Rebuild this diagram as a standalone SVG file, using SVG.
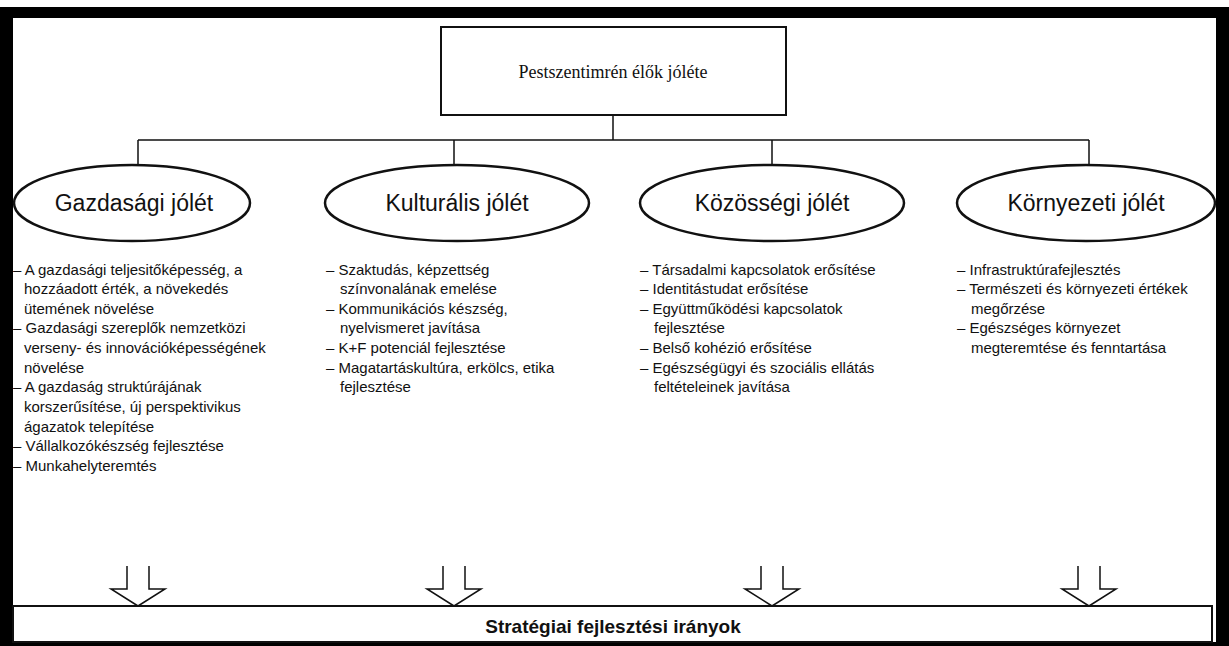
<svg xmlns="http://www.w3.org/2000/svg" width="1229" height="646" viewBox="0 0 1229 646">
<defs>
<style>
.frame{fill:#000;fill-rule:evenodd}
.box{fill:#fff;stroke:#111;stroke-width:2}
.ell{fill:#fff;stroke:#111;stroke-width:2.5}
.conn{fill:none;stroke:#111;stroke-width:1.5}
.arr{fill:none;stroke:#111;stroke-width:1.5;stroke-linejoin:miter}
.top{font-family:"Liberation Serif","Times New Roman",serif;font-size:18px;fill:#111;text-anchor:middle}
.lbl{font-family:"Liberation Sans",Arial,sans-serif;font-size:23px;fill:#111;text-anchor:middle}
.lst{font-family:"Liberation Sans",Arial,sans-serif;font-size:15px;fill:#111}
.bot{font-family:"Liberation Sans",Arial,sans-serif;font-size:19px;font-weight:bold;fill:#111;text-anchor:middle}
</style>
</defs>
<rect x="0" y="0" width="1229" height="646" fill="#fff"/>
<path class="frame" d="M0 7H1229V646H0Z M13 18V642H1216V18Z"/>

<g id="connectors">
<path class="conn" d="M613 115V140 M138 140H1089 M138 140V165 M454 140V165 M772 140V165 M1089 140V165"/>
<path class="arr" d="M127 566V589H111L138 606L165 589H149V566"/>
<path class="arr" d="M443 566V589H427L454 606L481 589H465V566"/>
<path class="arr" d="M761 566V589H745L772 606L799 589H783V566"/>
<path class="arr" d="M1078 566V589H1062L1089 606L1116 589H1100V566"/>
</g>

<g id="root">
<rect class="box" x="441" y="27" width="345" height="88"/>
<text class="top" x="613" y="78">Pestszentimrén élők jóléte</text>
</g>

<g id="gazdasagi">
<ellipse class="ell" cx="132" cy="203" rx="118" ry="38"/>
<text class="lbl" x="134" y="211">Gazdasági jólét</text>
<g class="lst">
<text x="13" y="275">– A gazdasági teljesitőképesség, a</text>
<text x="24" y="294">hozzáadott érték, a növekedés</text>
<text x="24" y="314">ütemének növelése</text>
<text x="13" y="333">– Gazdasági szereplők nemzetközi</text>
<text x="24" y="353">verseny- és innovációképességének</text>
<text x="24" y="373">növelése</text>
<text x="13" y="392">– A gazdaság struktúrájának</text>
<text x="24" y="412">korszerűsítése, új perspektivikus</text>
<text x="24" y="432">ágazatok telepítése</text>
<text x="13" y="451">– Vállalkozókészség fejlesztése</text>
<text x="13" y="471">– Munkahelyteremtés</text>
</g>
</g>

<g id="kulturalis">
<ellipse class="ell" cx="457" cy="203" rx="132" ry="38"/>
<text class="lbl" x="457" y="211">Kulturális jólét</text>
<g class="lst">
<text x="326" y="275">– Szaktudás, képzettség</text>
<text x="340" y="294">színvonalának emelése</text>
<text x="326" y="314">– Kommunikációs készség,</text>
<text x="340" y="333">nyelvismeret javítása</text>
<text x="326" y="353">– K+F potenciál fejlesztése</text>
<text x="326" y="373">– Magatartáskultúra, erkölcs, etika</text>
<text x="340" y="392">fejlesztése</text>
</g>
</g>

<g id="kozossegi">
<ellipse class="ell" cx="772" cy="203" rx="132" ry="38"/>
<text class="lbl" x="772" y="211">Közösségi jólét</text>
<g class="lst">
<text x="640" y="275">– Társadalmi kapcsolatok erősítése</text>
<text x="640" y="294">– Identitástudat erősítése</text>
<text x="640" y="314">– Együttműködési kapcsolatok</text>
<text x="654" y="333">fejlesztése</text>
<text x="640" y="353">– Belső kohézió erősítése</text>
<text x="640" y="373">– Egészségügyi és szociális ellátás</text>
<text x="654" y="392">feltételeinek javítása</text>
</g>
</g>

<g id="kornyezeti">
<ellipse class="ell" cx="1086" cy="203" rx="129" ry="38"/>
<text class="lbl" x="1086" y="211">Környezeti jólét</text>
<g class="lst">
<text x="957" y="275">– Infrastruktúrafejlesztés</text>
<text x="957" y="294">– Természeti és környezeti értékek</text>
<text x="971" y="314">megőrzése</text>
<text x="957" y="333">– Egészséges környezet</text>
<text x="971" y="353">megteremtése és fenntartása</text>
</g>
</g>

<g id="strategia">
<rect class="box" x="13" y="606" width="1199" height="36"/>
<text class="bot" x="613" y="633">Stratégiai fejlesztési irányok</text>
</g>
</svg>
